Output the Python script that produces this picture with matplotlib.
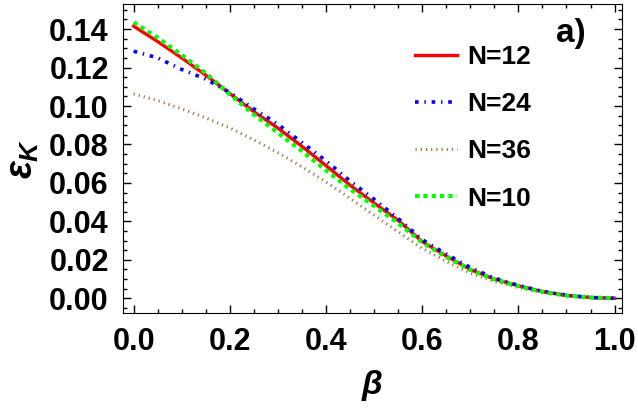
import numpy as np
import matplotlib
matplotlib.use("Agg")
import matplotlib.pyplot as plt
from matplotlib.ticker import MultipleLocator

plt.rcParams['font.family'] = ['Liberation Sans', 'DejaVu Sans']
plt.rcParams['font.weight'] = 'bold'
plt.rcParams['mathtext.fontset'] = 'custom'
plt.rcParams['mathtext.it'] = 'Liberation Sans:italic:bold'
plt.rcParams['mathtext.rm'] = 'Liberation Sans:bold'

# --- dane ---
beta = [0.0, 0.05, 0.1, 0.15, 0.2, 0.25, 0.3, 0.35, 0.4, 0.45, 0.5,
        0.55, 0.6, 0.65, 0.7, 0.75, 0.8, 0.85, 0.9, 0.95, 1.0]

eps_n12 = [0.1415, 0.1335, 0.1250, 0.1160, 0.1065, 0.0970, 0.0885, 0.0790,
           0.0690, 0.0588, 0.0495, 0.0405, 0.0295, 0.0220, 0.0150, 0.0100,
           0.0065, 0.0035, 0.0015, 0.0004, 0.0]
eps_n24 = [0.1285, 0.1250, 0.1190, 0.1140, 0.1070, 0.0985, 0.0905, 0.0810,
           0.0715, 0.0610, 0.0515, 0.0415, 0.0305, 0.0230, 0.0160, 0.0105,
           0.0067, 0.0036, 0.0016, 0.0004, 0.0]
eps_n36 = [0.1063, 0.1028, 0.0985, 0.0938, 0.0886, 0.0824, 0.0757, 0.0684,
           0.0605, 0.0520, 0.0432, 0.0345, 0.0260, 0.0192, 0.0131, 0.0087,
           0.0056, 0.0030, 0.0013, 0.0003, 0.0]
eps_n10 = [0.1435, 0.1355, 0.1265, 0.1170, 0.1060, 0.0955, 0.0860, 0.0765,
           0.0665, 0.0568, 0.0480, 0.0390, 0.0290, 0.0215, 0.0148, 0.0098,
           0.0063, 0.0034, 0.0014, 0.0004, 0.0]

x_ticks = [0.0, 0.2, 0.4, 0.6, 0.8, 1.0]
y_ticks = [0.00, 0.02, 0.04, 0.06, 0.08, 0.10, 0.12, 0.14]

fig = plt.figure(figsize=(6.38, 4.09), dpi=100)
ax = fig.add_axes([0.1923, 0.234, 0.7827, 0.756])

ax.plot(beta, eps_n12, color='#ff0000', lw=2.4, ls='-', label='N=12')
ax.plot(beta, eps_n24, color='#0000ff', lw=2.6, ls=(0, (1.0, 1.6, 0.4, 1.6)), label='N=24')
ax.plot(beta, eps_n36, color='#a0784a', lw=2.2, ls=(0, (0.4, 1.3)), label='N=36')
ax.plot(beta, eps_n10, color='#00ff00', lw=3.0, ls=(0, (1.0, 1.0)), label='N=10')

ax.set_xlim(-0.0228, 1.0156)
ax.set_ylim(-0.0078, 0.153)
ax.set_xticks(x_ticks)
ax.set_xticklabels([f"{t:.1f}" for t in x_ticks])
ax.set_yticks(y_ticks)
ax.set_yticklabels([f"{t:.2f}" for t in y_ticks])
ax.xaxis.set_minor_locator(MultipleLocator(0.05))
ax.yaxis.set_minor_locator(MultipleLocator(0.005))
ax.tick_params(which='both', direction='in', top=True, right=True, width=1)
ax.tick_params(which='major', length=6, labelsize=22, pad=10)
ax.tick_params(which='minor', length=3)
for lab in ax.get_xticklabels() + ax.get_yticklabels():
    lab.set_fontweight('bold')

ax.set_xlabel(r'$\beta$', fontsize=24, labelpad=8)
ax.set_ylabel(r'$\varepsilon_K$', fontsize=27, labelpad=6)

ax.text(0.898, 0.905, 'a)', transform=ax.transAxes, fontsize=24,
        fontweight='bold', ha='center', va='center')

ax.legend(loc='upper left', bbox_to_anchor=(0.537, 0.945), frameon=False,
          fontsize=19, handlelength=1.6, labelspacing=0.88, handletextpad=0.4)

fig.savefig('out.png', dpi=100)
